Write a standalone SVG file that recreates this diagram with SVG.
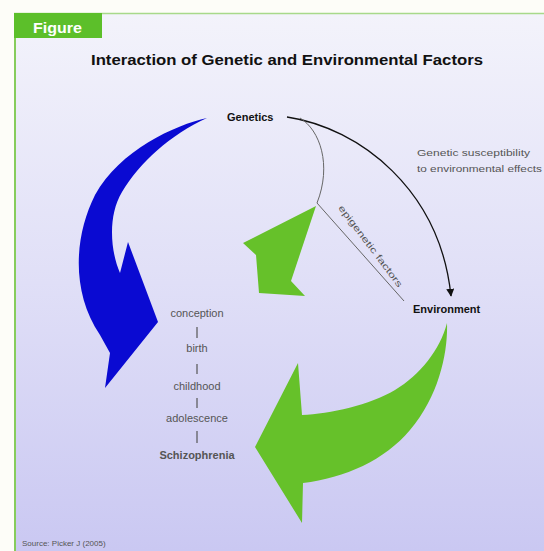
<svg xmlns="http://www.w3.org/2000/svg" width="544" height="551" viewBox="0 0 544 551">
<defs>
<linearGradient id="bg" x1="0" y1="0" x2="0" y2="1">
<stop offset="0" stop-color="#f3f3fb"/>
<stop offset="0.5" stop-color="#e0dff7"/>
<stop offset="1" stop-color="#cac8f2"/>
</linearGradient>
<marker id="ah" viewBox="0 0 10 10" refX="9" refY="5" markerWidth="8" markerHeight="8" markerUnits="userSpaceOnUse" orient="auto">
<path d="M0,0 L10,5 L0,10 z" fill="#111"/>
</marker>
<style>
.lbl{font-family:"Liberation Sans",Arial,sans-serif;font-weight:bold;font-size:11px;fill:#111}
.small{font-family:"Liberation Sans",Arial,sans-serif;font-size:9px;fill:#555}
.tl{font-family:"Liberation Sans",Arial,sans-serif;font-size:11px;fill:#555;text-anchor:middle}
.sep{stroke:#555;stroke-width:1.2}
.green{fill:#66c12a}
</style>
</defs>
<rect x="0" y="0" width="544" height="551" fill="#fdfdf8"/>
<rect x="15" y="14" width="529" height="537" fill="url(#bg)"/>
<line x1="14" y1="13.5" x2="544" y2="13.5" stroke="#a8d98a" stroke-width="1.5"/>
<line x1="15" y1="13" x2="15" y2="551" stroke="#86cc5c" stroke-width="2"/>
<g id="tab">
<rect x="14" y="13" width="88" height="25" fill="#5cbf2a"/>
<text x="33" y="33" font-family="'Liberation Sans',Arial,sans-serif" font-weight="bold" font-size="14" fill="#ffffff" textLength="49" lengthAdjust="spacingAndGlyphs">Figure</text>
</g>
<text id="title" x="91" y="65" font-family="'Liberation Sans',Arial,sans-serif" font-weight="bold" font-size="15" fill="#111" textLength="392" lengthAdjust="spacingAndGlyphs">Interaction of Genetic and Environmental Factors</text>
<g id="connectors">
<path id="blue-arrow" d="M207,118 C175,125 120,150 95,195 C75,235 70,290 100,335 L110,353 L105,388 L158,322 L128,242 L120,273 C110,250 108,215 122,192 C140,162 170,135 207,118 Z" fill="#0a0ad2"/>
<path id="green-small" class="green" d="M316,206 L243,243 L256,255 L259,293 L305,296 L291,281 Z"/>
<path id="green-big" class="green" d="M447,323 C448,350 440,395 410,430 C385,460 345,478 303,483 L302,523 L255,447 L298,363 L302,415 C330,414 370,405 395,390 C420,375 440,350 447,323 Z"/>
<path id="gen-env" d="M287,117 C360,128 440,190 451,296" fill="none" stroke="#111" stroke-width="1.3" marker-end="url(#ah)"/>
<path id="epi" d="M300,118 C320,130 332,165 317,203 L404,301" fill="none" stroke="#666" stroke-width="1"/>
</g>
<g id="genetics"><text class="lbl" x="227" y="121">Genetics</text></g>
<g id="environment"><text class="lbl" x="413" y="313">Environment</text></g>
<g id="gs-label">
<text class="small" x="417" y="156" textLength="113" lengthAdjust="spacingAndGlyphs">Genetic susceptibility</text>
<text class="small" x="417" y="172" textLength="125" lengthAdjust="spacingAndGlyphs">to environmental effects</text>
</g>
<g id="epi-label">
<text class="small" transform="translate(338,208) rotate(53)" font-size="10" textLength="100" lengthAdjust="spacingAndGlyphs">epigenetic factors</text>
</g>
<g id="timeline">
<text class="tl" x="197" y="317">conception</text>
<line class="sep" x1="197" y1="327" x2="197" y2="338"/>
<text class="tl" x="197" y="352">birth</text>
<line class="sep" x1="197" y1="364" x2="197" y2="374"/>
<text class="tl" x="197" y="390">childhood</text>
<line class="sep" x1="197" y1="398" x2="197" y2="408"/>
<text class="tl" x="197" y="422">adolescence</text>
<line class="sep" x1="197" y1="431" x2="197" y2="443"/>
<text class="tl" x="197" y="459" font-weight="bold" fill="#222">Schizophrenia</text>
</g>
<text id="source" x="22" y="546" font-family="'Liberation Sans',Arial,sans-serif" font-size="8" fill="#555">Source: Picker J (2005)</text>
</svg>
